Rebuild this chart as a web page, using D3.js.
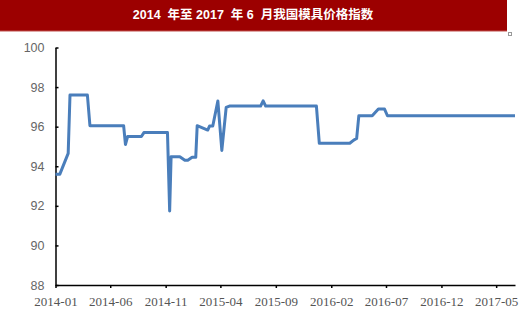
<!DOCTYPE html>
<html>
<head>
<meta charset="utf-8">
<script src="https://cdn.jsdelivr.net/npm/d3@7"></script>
<style>
  body { margin: 0; background: #fff; }
  svg { display: block; }
</style>
</head>
<body>
<svg id="chart" width="520" height="323"></svg>
<script>
// chart title
const title = '2014  年至 2017  年 6  月我国模具价格指数';

// dates where the line changes direction, and the index value there
const dates = [
  '2014-01-01', '2014-01-13', '2014-02-05', '2014-02-10', '2014-03-30', '2014-04-06',
  '2014-07-08', '2014-07-13', '2014-07-19', '2014-08-26', '2014-09-02', '2014-11-06',
  '2014-11-12', '2014-11-16', '2014-12-10', '2014-12-24', '2015-01-01', '2015-01-13',
  '2015-01-23', '2015-01-27', '2015-02-25', '2015-03-02', '2015-03-11', '2015-03-25',
  '2015-04-05', '2015-04-17', '2015-04-26', '2015-07-21', '2015-07-28', '2015-08-04',
  '2015-12-22', '2015-12-30', '2016-03-23', '2016-04-03', '2016-04-11', '2016-04-17',
  '2016-05-24', '2016-06-10', '2016-06-27', '2016-07-05', '2017-06-22'
];
const values = [
  93.6, 93.6, 94.65, 97.6, 97.6, 96.05,
  96.05, 95.1, 95.5, 95.5, 95.7, 95.7,
  91.74, 94.48, 94.48, 94.3, 94.3, 94.45,
  94.45, 96.05, 95.83, 96.03, 96.03, 97.3,
  94.8, 96.97, 97.04, 97.04, 97.3, 97.04,
  97.04, 95.16, 95.16, 95.32, 95.4, 96.55,
  96.55, 96.89, 96.89, 96.55, 96.55
];

// axis ticks
const xTicks = ['2014-01', '2014-06', '2014-11', '2015-04', '2015-09', '2016-02', '2016-07', '2016-12', '2017-05'];
const yTicks = [88, 90, 92, 94, 96, 98, 100];

const svg = d3.select('#chart');
const parseDay = d3.timeParse('%Y-%m-%d');
const parseMonth = d3.timeParse('%Y-%m');
const data = dates.map((d, i) => ({ date: parseDay(d), value: values[i] }));

// title bar
svg.append('rect')
  .attr('x', 0).attr('y', 0)
  .attr('width', 507).attr('height', 31)
  .attr('fill', '#9c0000');
svg.append('line')
  .attr('x1', 0).attr('x2', 507)
  .attr('y1', 31).attr('y2', 31)
  .attr('stroke', '#c0504d').attr('stroke-width', 1);
svg.append('text')
  .attr('x', 253).attr('y', 16)
  .attr('text-anchor', 'middle')
  .attr('dominant-baseline', 'middle')
  .attr('fill', '#fff')
  .attr('font-family', '"Liberation Sans", "Noto Sans CJK SC", sans-serif')
  .attr('font-weight', 'bold')
  .attr('font-size', 12.5)
  .style('white-space', 'pre')
  .text(title);
svg.append('rect')
  .attr('x', 508.5).attr('y', 32.5)
  .attr('width', 3).attr('height', 3)
  .attr('fill', 'none')
  .attr('stroke', '#999');

const x = d3.scaleTime()
  .domain([parseDay('2014-01-01'), parseDay('2017-06-22')])
  .range([55.5, 515]);
const y = d3.scaleLinear()
  .domain([88, 100])
  .range([285, 47.5]);

// x axis: ticks point down
const xAxis = svg.append('g')
  .attr('transform', 'translate(0,285)')
  .call(d3.axisBottom(x)
    .tickValues(xTicks.map(parseMonth))
    .tickFormat(d3.timeFormat('%Y-%m'))
    .tickSize(3)
    .tickPadding(9)
    .tickSizeOuter(0));
xAxis.select('.domain').attr('stroke', '#000').attr('stroke-width', 1.5);
xAxis.selectAll('.tick line').attr('stroke', '#000').attr('stroke-width', 1.5);
xAxis.selectAll('.tick text')
  .attr('fill', '#555')
  .attr('font-family', '"Liberation Serif", "Times New Roman", serif')
  .attr('font-size', 13);

// y axis: ticks point into the plot
const yAxis = svg.append('g')
  .attr('transform', 'translate(55.5,0)')
  .call(d3.axisLeft(y)
    .tickValues(yTicks)
    .tickSize(-3)
    .tickPadding(11)
    .tickSizeOuter(0));
yAxis.select('.domain').attr('stroke', '#000').attr('stroke-width', 1.5);
yAxis.selectAll('.tick line').attr('stroke', '#000').attr('stroke-width', 1.5);
yAxis.selectAll('.tick text')
  .attr('fill', '#666')
  .attr('font-family', '"Liberation Sans", Arial, sans-serif')
  .attr('font-size', 12.5);

// index line
const line = d3.line()
  .x(d => x(d.date))
  .y(d => y(d.value));
svg.append('path')
  .datum(data)
  .attr('d', line)
  .attr('fill', 'none')
  .attr('stroke', '#4a7ebb')
  .attr('stroke-width', 3)
  .attr('stroke-linejoin', 'round');
</script>
</body>
</html>
